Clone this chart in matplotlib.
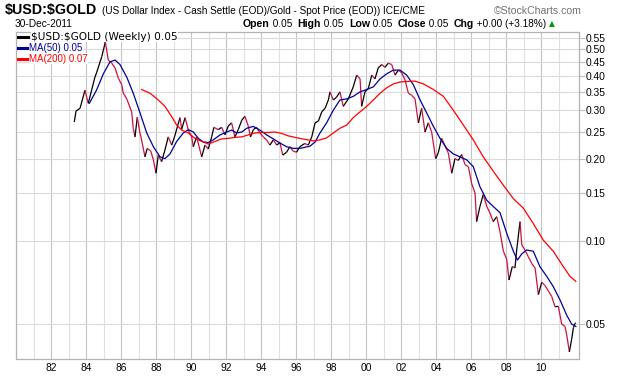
import matplotlib
matplotlib.use("Agg")
import numpy as np
import matplotlib.pyplot as plt
from matplotlib.collections import LineCollection
from matplotlib.lines import Line2D

# -----------------------------
# DATA
# -----------------------------
price_t = [1983.33, 1983.43, 1983.66, 1983.94, 1984.13, 1984.51, 1984.60, 1984.90, 1985.09, 1985.10,
           1985.27, 1985.47, 1985.66, 1985.85, 1986.04, 1986.13, 1986.33, 1986.61, 1986.70, 1986.80,
           1986.93, 1987.08, 1987.14, 1987.37, 1987.50, 1987.70, 1987.85, 1988.00, 1988.13, 1988.32,
           1988.51, 1988.70, 1988.90, 1989.09, 1989.37, 1989.47, 1989.66, 1989.85, 1990.04, 1990.13,
           1990.32, 1990.61, 1990.80, 1990.99, 1991.18, 1991.31, 1991.56, 1991.75, 1991.94, 1992.13,
           1992.32, 1992.51, 1992.70, 1992.90, 1993.08, 1993.27, 1993.40, 1993.56, 1993.75, 1993.94,
           1994.13, 1994.32, 1994.51, 1994.70, 1994.90, 1995.08, 1995.24, 1995.46, 1995.65, 1995.84,
           1996.03, 1996.22, 1996.50, 1996.70, 1996.90, 1997.09, 1997.28, 1997.47, 1997.66, 1997.85,
           1997.94, 1998.13, 1998.32, 1998.51, 1998.70, 1998.99, 1999.27, 1999.47, 1999.66, 1999.75,
           1999.94, 2000.13, 2000.33, 2000.51, 2000.70, 2000.90, 2001.08, 2001.27, 2001.47, 2001.66,
           2001.85, 2002.04, 2002.23, 2002.42, 2002.61, 2002.80, 2002.99, 2003.18, 2003.37, 2003.56,
           2003.75, 2003.98, 2004.13, 2004.32, 2004.51, 2004.70, 2004.90, 2005.08, 2005.27, 2005.47,
           2005.66, 2005.85, 2006.04, 2006.23, 2006.32, 2006.51, 2006.70, 2006.90, 2007.08, 2007.27,
           2007.47, 2007.66, 2007.85, 2008.04, 2008.17, 2008.36, 2008.51, 2008.61, 2008.80, 2008.90,
           2009.08, 2009.27, 2009.47, 2009.66, 2009.85, 2010.04, 2010.23, 2010.42, 2010.61, 2010.80,
           2010.99, 2011.18, 2011.37, 2011.47, 2011.62, 2011.75, 2011.85, 2011.94, 2011.99]
price_v = [0.272, 0.298, 0.305, 0.355, 0.318, 0.396, 0.410, 0.470, 0.527, 0.535,
           0.457, 0.445, 0.428, 0.392, 0.372, 0.346, 0.330, 0.296, 0.258, 0.240,
           0.283, 0.248, 0.240, 0.203, 0.218, 0.213, 0.198, 0.177, 0.206, 0.195,
           0.215, 0.240, 0.224, 0.244, 0.282, 0.256, 0.282, 0.254, 0.240, 0.221,
           0.240, 0.203, 0.224, 0.217, 0.240, 0.260, 0.255, 0.260, 0.244, 0.263,
           0.270, 0.240, 0.255, 0.276, 0.285, 0.263, 0.240, 0.255, 0.260, 0.248,
           0.240, 0.234, 0.224, 0.234, 0.224, 0.229, 0.206, 0.211, 0.221, 0.213,
           0.211, 0.221, 0.227, 0.224, 0.240, 0.270, 0.274, 0.296, 0.305, 0.327,
           0.350, 0.327, 0.335, 0.350, 0.310, 0.330, 0.365, 0.403, 0.390, 0.310,
           0.350, 0.360, 0.403, 0.390, 0.428, 0.440, 0.430, 0.445, 0.440, 0.403,
           0.420, 0.410, 0.387, 0.346, 0.340, 0.330, 0.270, 0.305, 0.250, 0.270,
           0.250, 0.200, 0.210, 0.237, 0.223, 0.210, 0.177, 0.200, 0.197, 0.207,
           0.190, 0.187, 0.162, 0.150, 0.118, 0.134, 0.148, 0.134, 0.127, 0.118,
           0.123, 0.108, 0.092, 0.086, 0.0723, 0.081, 0.080, 0.093, 0.118, 0.097,
           0.093, 0.088, 0.083, 0.080, 0.064, 0.071, 0.069, 0.066, 0.063, 0.0578,
           0.058, 0.050, 0.049, 0.0456, 0.0396, 0.044, 0.0485, 0.0502, 0.0505]

ma50_t = [1984.19, 1984.60, 1984.99, 1985.37, 1985.66, 1985.94, 1986.33, 1986.70, 1987.09, 1987.47,
          1987.85, 1988.23, 1988.51, 1988.80, 1989.18, 1989.56, 1989.85, 1990.13, 1990.42, 1990.70,
          1990.99, 1991.27, 1991.66, 1992.04, 1992.32, 1992.61, 1992.90, 1993.18, 1993.56, 1993.94,
          1994.32, 1994.70, 1995.08, 1995.46, 1995.84, 1996.23, 1996.80, 1997.09, 1997.37, 1997.75,
          1998.13, 1998.51, 1998.90, 1999.27, 1999.66, 2000.04, 2000.42, 2000.80, 2001.18, 2001.56,
          2001.94, 2002.32, 2002.70, 2003.09, 2003.47, 2003.85, 2004.23, 2004.61, 2004.99, 2005.37,
          2005.75, 2006.13, 2006.51, 2006.90, 2007.27, 2007.66, 2008.04, 2008.42, 2008.65, 2008.90,
          2009.18, 2009.56, 2009.94, 2010.33, 2010.70, 2011.09, 2011.47, 2011.75, 2011.99]
ma50_v = [0.318, 0.355, 0.407, 0.450, 0.457, 0.440, 0.396, 0.346, 0.293, 0.248,
          0.221, 0.203, 0.200, 0.208, 0.231, 0.248, 0.255, 0.250, 0.237, 0.230,
          0.229, 0.234, 0.244, 0.250, 0.254, 0.248, 0.250, 0.258, 0.262, 0.254,
          0.244, 0.236, 0.228, 0.221, 0.218, 0.218, 0.222, 0.230, 0.248, 0.270,
          0.300, 0.327, 0.330, 0.337, 0.350, 0.357, 0.365, 0.390, 0.407, 0.420,
          0.420, 0.403, 0.372, 0.327, 0.293, 0.262, 0.237, 0.218, 0.208, 0.203,
          0.198, 0.187, 0.158, 0.141, 0.134, 0.127, 0.107, 0.092, 0.0855, 0.090,
          0.093, 0.092, 0.0808, 0.0745, 0.0684, 0.0611, 0.0538, 0.050, 0.049]

ma200_t = [1987.18, 1987.66, 1988.13, 1988.51, 1988.90, 1989.18, 1989.47, 1989.85, 1990.23, 1990.61,
           1990.99, 1991.37, 1991.75, 1992.13, 1992.51, 1992.90, 1993.27, 1993.66, 1994.04, 1994.42,
           1994.80, 1995.18, 1995.56, 1995.94, 1996.23, 1996.99, 1997.37, 1997.75, 1998.13, 1998.51,
           1998.90, 1999.27, 1999.66, 2000.04, 2000.42, 2000.80, 2001.18, 2001.56, 2001.94, 2002.32,
           2002.80, 2003.28, 2003.85, 2004.42, 2004.99, 2005.56, 2006.13, 2006.70, 2007.27, 2007.85,
           2008.42, 2008.99, 2009.56, 2010.13, 2010.70, 2011.28, 2011.66, 2011.99]
ma200_v = [0.357, 0.346, 0.327, 0.310, 0.284, 0.265, 0.254, 0.248, 0.237, 0.231,
           0.226, 0.231, 0.236, 0.237, 0.239, 0.240, 0.244, 0.248, 0.249, 0.249,
           0.250, 0.247, 0.242, 0.239, 0.237, 0.232, 0.234, 0.238, 0.248, 0.258,
           0.265, 0.282, 0.296, 0.310, 0.327, 0.346, 0.362, 0.374, 0.380, 0.382,
           0.383, 0.374, 0.357, 0.337, 0.300, 0.265, 0.234, 0.203, 0.180, 0.160,
           0.143, 0.132, 0.116, 0.101, 0.092, 0.0808, 0.0745, 0.0715]

y_ticks = [0.05, 0.10, 0.15, 0.20, 0.25, 0.30, 0.35, 0.40, 0.45, 0.50, 0.55]
x_major = list(range(1982, 2011, 2))
x_minor = list(range(1981, 2012, 2))
x_labels = [f"{y % 100:02d}" for y in x_major]

W, H = 620, 376
SANS = ["Liberation Sans", "DejaVu Sans"]
plt.rcParams["text.parse_math"] = False


def fx(px):
    return px / W


def fy(py):
    return 1 - py / H


fig = plt.figure(figsize=(W / 100, H / 100), dpi=100)
ax = fig.add_axes([fx(16), fy(359), fx(579) - fx(16), (359 - 32) / H])

# grid
for yr in x_minor:
    ax.axvline(yr, color="#e0e0e0", lw=0.8, zorder=0)
for yr in x_major:
    ax.axvline(yr, color="#c4c4c4", lw=0.8, zorder=0)
for v in y_ticks:
    ax.axhline(v, color="#dadada", lw=0.8, zorder=0)

# price: black for up moves, crimson for down moves
pts = np.column_stack([price_t, price_v])
segs = np.stack([pts[:-1], pts[1:]], axis=1)
cols = ["black" if b >= a else "#cc1040" for a, b in zip(price_v[:-1], price_v[1:])]
ax.add_collection(LineCollection(segs, colors=cols, linewidths=0.9, zorder=2))

ax.plot(ma50_t, ma50_v, color="#000099", lw=0.9, zorder=3)
ax.plot(ma200_t, ma200_v, color="#ff0000", lw=0.9, zorder=3)

ax.set_yscale("log")
ax.set_ylim(0.0373, 0.578)
ax.set_xlim(1980.0, 2012.17)
ax.yaxis.tick_right()
ax.set_yticks(y_ticks)
ax.set_yticklabels([f"{v:.2f}" for v in y_ticks])
ax.yaxis.set_minor_locator(plt.NullLocator())
ax.set_xticks(x_major)
ax.set_xticklabels(x_labels)
ax.xaxis.set_minor_locator(plt.NullLocator())
ax.tick_params(axis="y", length=4, width=0.8, color="#c0c0c0", pad=1,
               labelsize=7.4, labelcolor="black")
ax.tick_params(axis="x", length=0, pad=3, labelsize=7.4)
for lab in ax.get_xticklabels() + ax.get_yticklabels():
    lab.set_family(SANS)
for sp in ax.spines.values():
    sp.set_color("#b4b4b4")
    sp.set_linewidth(0.9)

# legend (manual, StockCharts style)
leg = [("$USD:$GOLD (Weekly) 0.05", "black", 36.5, 7.6, ["DejaVu Sans"]),
       ("MA(50) 0.05", "#000099", 48, 7.0, SANS),
       ("MA(200) 0.07", "#ff0000", 58.5, 7.0, SANS)]
for txt, c, yy, fs, fam in leg:
    fig.add_artist(Line2D([fx(18), fx(28)], [fy(yy), fy(yy)], color=c, lw=2.2))
    fig.text(fx(29 if fam is SANS else 31), fy(yy), txt, color=c, fontsize=fs,
             family=fam, va="center", ha="left",
             bbox=dict(facecolor="white", edgecolor="none", pad=0.3))

# header
fig.text(fx(5), fy(10), "$USD:$GOLD", fontsize=10.3, weight="bold",
         family=SANS, va="center")
fig.text(fx(102), fy(10.5), "(US Dollar Index - Cash Settle (EOD)/Gold - Spot Price (EOD)) ICE/CME",
         fontsize=7.2, family=SANS, va="center")
fig.text(fx(582), fy(10.5), "\u00a9StockCharts.com", fontsize=7.6, color="#707070",
         family=SANS, va="center", ha="right")
fig.text(fx(15), fy(24), "30-Dec-2011", fontsize=7.3, family=SANS, va="center")

renderer = fig.canvas.get_renderer()
pieces = [("Open", True), (" 0.05  ", False), ("High", True), (" 0.05  ", False),
          ("Low", True), (" 0.05  ", False), ("Close", True), (" 0.05  ", False),
          ("Chg", True), (" +0.00 (+3.18%) ", False)]
xpos = 243
for txt, bold in pieces:
    t = fig.text(fx(xpos), fy(24), txt, fontsize=7.6 if bold else 7.2,
                 weight="bold" if bold else "normal", family=SANS, va="center")
    xpos += t.get_window_extent(renderer).width
fig.text(fx(xpos), fy(24), "\u25b2", fontsize=5.5, color="#009900",
         family=["DejaVu Sans"], va="center")

fig.savefig("out.png", dpi=100)
